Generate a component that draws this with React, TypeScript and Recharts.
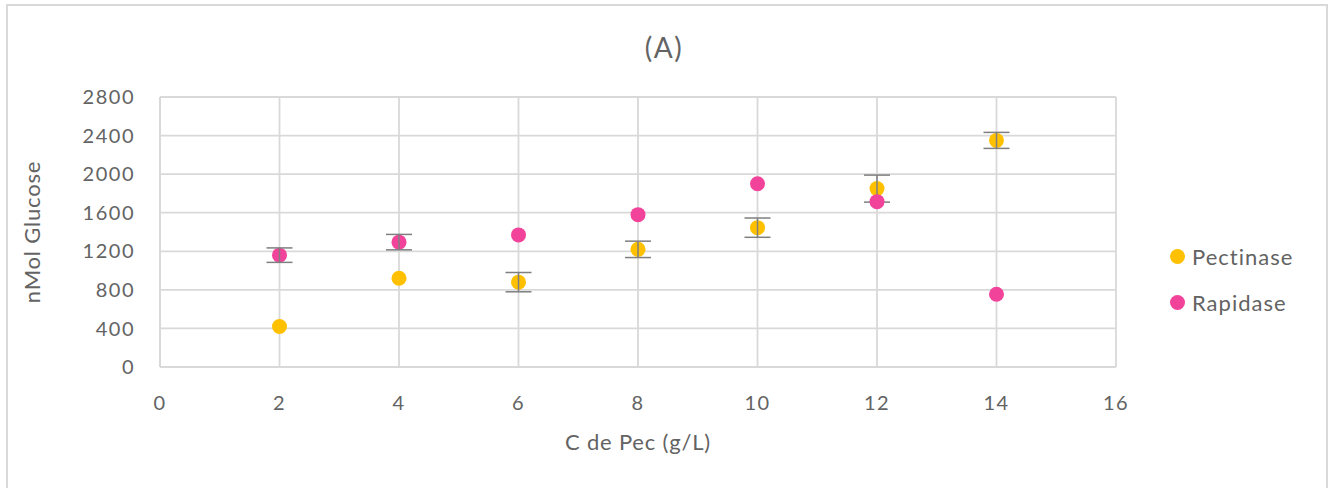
import { ScatterChart, Scatter, XAxis, YAxis, CartesianGrid, ErrorBar, Legend, Label } from 'recharts';

// pectin concentration (g/L)
const concentrations = [2, 4, 6, 8, 10, 12, 14];

// released glucose (nmol) with standard deviation; null = no bar shown
const pectinaseGlucose = [420, 920, 880, 1220, 1445, 1850, 2350];
const pectinaseError = [null, null, 100, 85, 100, 140, 83];
const rapidaseGlucose = [1160, 1295, 1370, 1580, 1900, 1715, 755];
const rapidaseError = [75, 80, null, null, null, null, null];

const xTicks = [0, 2, 4, 6, 8, 10, 12, 14, 16];
const yTicks = [0, 400, 800, 1200, 1600, 2000, 2400, 2800];

const PECTINASE = '#FFC000';
const RAPIDASE = '#F2439B';
const TEXT = '#636363';
const GRID = '#d9d9d9';
const FONT = 'Lato, "Open Sans", sans-serif';

const pectinaseData = concentrations.map((c, i) => ({ c, glucose: pectinaseGlucose[i], err: pectinaseError[i] }));
const rapidaseData = concentrations.map((c, i) => ({ c, glucose: rapidaseGlucose[i], err: rapidaseError[i] }));

const legendItems = [
    { name: 'Pectinase', color: PECTINASE },
    { name: 'Rapidase', color: RAPIDASE },
];

const Dot = (props: any) => <circle cx={props.cx} cy={props.cy} r={7.5} fill={props.fill} />;

const YTitle = ({ viewBox }: any) => {
    const cx = viewBox.x + 21;
    const cy = viewBox.y + viewBox.height / 2;
    return (
        <text x={cx} y={cy} transform={`rotate(-90 ${cx} ${cy})`} textAnchor="middle" dominantBaseline="central"
            fill={TEXT} fontSize={22} fontFamily={FONT} style={{ letterSpacing: 0.8 }}>
            nMol Glucose
        </text>
    );
};

const XTitle = ({ viewBox }: any) => (
    <text x={viewBox.x + viewBox.width / 2} y={viewBox.y + 74} textAnchor="middle" dominantBaseline="central"
        fill={TEXT} fontSize={22} fontFamily={FONT} style={{ letterSpacing: 0.8 }}>
        C de Pec (g/L)
    </text>
);

const LegendBox = () => (
    <div style={{ fontFamily: FONT, fontSize: 22, color: TEXT, letterSpacing: 1 }}>
        {legendItems.map((item) => (
            <div key={item.name} style={{ display: 'flex', alignItems: 'center', height: 46 }}>
                <span style={{ width: 15, height: 15, borderRadius: '50%', background: item.color, marginRight: 7 }} />
                {item.name}
            </div>
        ))}
    </div>
);

const tickStyle = { fill: TEXT, fontSize: 20, fontFamily: FONT, style: { letterSpacing: 1.5 } };

export default function App() {
    return (
        <div style={{ position: 'absolute', left: 0, top: 0, width: 1328, height: 488, background: '#fff', overflow: 'hidden' }}>
            <div style={{ position: 'absolute', left: 6, top: 4, width: 1318, height: 500, border: `2px solid ${GRID}` }} />
            <div style={{ position: 'absolute', left: 0, width: 1328, top: 30, textAlign: 'center', fontFamily: FONT, fontSize: 28, color: TEXT, letterSpacing: 1.5 }}>
                (A)
            </div>
            <div style={{ position: 'absolute', left: 0, top: 0 }}>
                <ScatterChart width={1328} height={488} margin={{ top: 97, right: 62, bottom: 91, left: 10 }}>
                    <CartesianGrid stroke={GRID} strokeWidth={1.8} horizontalValues={yTicks} verticalValues={xTicks} />
                    <XAxis type="number" dataKey="c" domain={[0, 16]} ticks={xTicks} height={30}
                        axisLine={{ stroke: GRID, strokeWidth: 1.8 }} tickLine={false} tickSize={0} tickMargin={29}
                        tick={tickStyle}
                        label={<Label content={XTitle} />} />
                    <YAxis type="number" dataKey="glucose" domain={[0, 2800]} ticks={yTicks} width={150}
                        axisLine={{ stroke: GRID, strokeWidth: 1.8 }} tickLine={false} tickSize={0} tickMargin={25}
                        tick={tickStyle}
                        label={<Label content={YTitle} />} />
                    <Legend layout="vertical" align="right" verticalAlign="top" content={LegendBox}
                        wrapperStyle={{ left: 1170, top: 233, width: 150 }} />
                    {/* error bars sit underneath the markers */}
                    <Scatter name="Pectinase" data={pectinaseData} fill={PECTINASE} shape={Dot} isAnimationActive={false}>
                        <ErrorBar dataKey="err" direction="y" width={13} stroke="#7f7f7f" strokeWidth={1.5}
                            isAnimationActive={false} zIndex={0} />
                    </Scatter>
                    <Scatter name="Rapidase" data={rapidaseData} fill={RAPIDASE} shape={Dot} isAnimationActive={false}>
                        <ErrorBar dataKey="err" direction="y" width={13} stroke="#7f7f7f" strokeWidth={1.5}
                            isAnimationActive={false} zIndex={0} />
                    </Scatter>
                </ScatterChart>
            </div>
        </div>
    );
}
